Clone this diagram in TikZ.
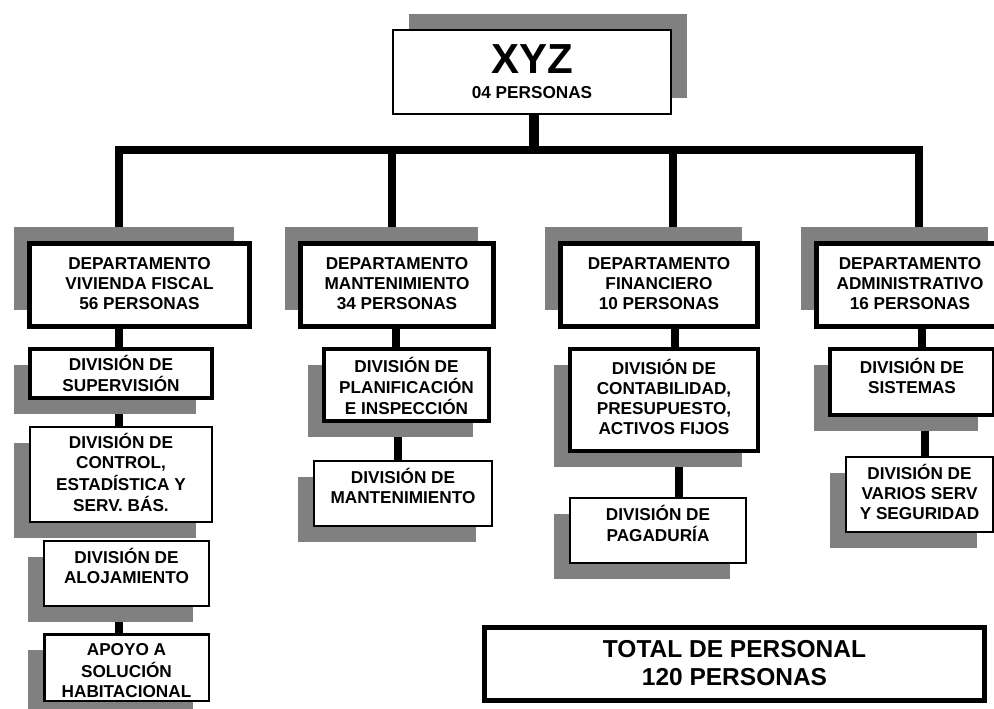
\documentclass[tikz,border=0pt]{standalone}
\usepackage{fontspec}
\setmainfont{Liberation Sans}
\usetikzlibrary{shadows,backgrounds}
\definecolor{sgray}{HTML}{808080}
\newcommand\boxtext[2][0pt]{\raisebox{#1}[\height][\depth]{\begin{tabular}{@{}c@{}}#2\end{tabular}}}
\tikzset{
  box/.style={draw, fill=white, inner sep=0pt, font=\bfseries\fontsize{17.2}{20}\selectfont},
  bthin/.style={box, line width=2pt},
  bmid/.style={box, line width=4pt},
  bthick/.style={box, line width=5pt},
  shdept/.style={drop shadow={shadow xshift=-16pt,shadow yshift=16.5pt,fill=sgray,opacity=1}},
  shdiv/.style={drop shadow={shadow xshift=-16pt,shadow yshift=-16pt,fill=sgray,opacity=1}},
  shtop/.style={drop shadow={shadow xshift=16pt,shadow yshift=16pt,fill=sgray,opacity=1}},
  conn/.style={line width=8pt}
}
\begin{document}
\begin{tikzpicture}[x=1pt,y=-1pt]
\useasboundingbox (0,0) rectangle (994,709);
\clip (0,0) rectangle (994,709);
% top
\node[bthin, shtop, minimum width=278pt, minimum height=84pt] (top) at (532,72)
  {\boxtext[-2.5pt]{{\fontsize{42}{42}\selectfont XYZ}\\[4.5pt]04 PERSONAS}};
% departments
\node[bthick, shdept, minimum width=220pt, minimum height=83pt] (d1) at (139.5,285)
  {\boxtext{DEPARTAMENTO\\VIVIENDA FISCAL\\56 PERSONAS}};
\node[bthick, shdept, minimum width=193pt, minimum height=83pt] (d2) at (397,285)
  {\boxtext{DEPARTAMENTO\\MANTENIMIENTO\\34 PERSONAS}};
\node[bthick, shdept, minimum width=197pt, minimum height=83pt] (d3) at (659,285)
  {\boxtext{DEPARTAMENTO\\FINANCIERO\\10 PERSONAS}};
\node[bthick, shdept, minimum width=187pt, minimum height=83pt] (d4) at (910,285)
  {\boxtext{DEPARTAMENTO\\ADMINISTRATIVO\\16 PERSONAS}};
% column 1
\node[bmid, shdiv, minimum width=182pt, minimum height=49pt] (sup) at (121,373.5)
  {\boxtext[-3pt]{DIVISIÓN DE\\SUPERVISIÓN}};
\node[bthin, shdiv, minimum width=182pt, minimum height=95pt] (ctrl) at (121,474.5)
  {\boxtext[-1pt]{DIVISIÓN DE\\CONTROL,\\ESTADÍSTICA Y\\SERV. BÁS.}};
\node[bthin, shdiv, minimum width=165pt, minimum height=65pt] (aloj) at (126.5,573.5)
  {\boxtext[5pt]{DIVISIÓN DE\\ALOJAMIENTO}};
\node[box, line width=2.5pt, shdiv, minimum width=164.5pt, minimum height=66.5pt] (apoyo) at (126.5,667.5)
  {\boxtext[-5pt]{APOYO A\\SOLUCIÓN\\HABITACIONAL}};
% column 2
\node[bmid, shdiv, minimum width=165pt, minimum height=72pt] (plan) at (406.5,385)
  {\boxtext[-4pt]{DIVISIÓN DE\\PLANIFICACIÓN\\E INSPECCIÓN}};
\node[bthin, shdiv, minimum width=178pt, minimum height=65pt] (mant) at (403,493.5)
  {\boxtext[5pt]{DIVISIÓN DE\\MANTENIMIENTO}};
% column 3
\node[bmid, shdiv, minimum width=188pt, minimum height=102pt] (cont) at (664,400)
  {\boxtext{DIVISIÓN DE\\CONTABILIDAD,\\PRESUPUESTO,\\ACTIVOS FIJOS}};
\node[bthin, shdiv, minimum width=176pt, minimum height=65pt] (pag) at (658,530.5)
  {\boxtext[4.5pt]{DIVISIÓN DE\\PAGADURÍA}};
% column 4
\node[bmid, shdiv, minimum width=164pt, minimum height=66pt] (sis) at (912,382)
  {\boxtext[3pt]{DIVISIÓN DE\\SISTEMAS}};
\node[bthin, shdiv, minimum width=147pt, minimum height=75pt] (var) at (919.5,494.5)
  {\boxtext{DIVISIÓN DE\\VARIOS SERV\\Y SEGURIDAD}};
% total
\node[bthick, minimum width=500pt, minimum height=73pt, font=\bfseries\fontsize{24.5}{28}\selectfont] (total) at (734.5,664)
  {\boxtext[-1.5pt]{TOTAL DE PERSONAL\\120 PERSONAS}};
% connector coordinates
\coordinate (xt) at (534,150);
\coordinate (b1) at (119,150);
\coordinate (b2) at (392,150);
\coordinate (b3) at (673,150);
\coordinate (b4) at (919,150);
\coordinate (k1) at (119,0);
\coordinate (k2a) at (396,0);
\coordinate (k2b) at (398,0);
\coordinate (k3a) at (675,0);
\coordinate (k3b) at (679,0);
\coordinate (k4a) at (922,0);
\coordinate (k4b) at (925,0);
\begin{pgfonlayer}{background}
\fill[white] (0,0) rectangle (994,709);
\draw[line width=10pt] (top.south -| xt) -- (xt);
\draw[conn, line cap=rect] (b1) -- (b4);
\draw[conn] (b1) -- (b1 |- d1.north);
\draw[conn] (b2) -- (b2 |- d2.north);
\draw[conn] (b3) -- (b3 |- d3.north);
\draw[conn] (b4) -- (b4 |- d4.north);
\draw[conn] (d1.south -| k1) -- (sup.north -| k1);
\draw[conn] (sup.south -| k1) -- (ctrl.north -| k1);
\draw[conn] (aloj.south -| k1) -- (apoyo.north -| k1);
\draw[conn] (d2.south -| k2a) -- (plan.north -| k2a);
\draw[conn] (plan.south -| k2b) -- (mant.north -| k2b);
\draw[conn] (d3.south -| k3a) -- (cont.north -| k3a);
\draw[conn] (cont.south -| k3b) -- (pag.north -| k3b);
\draw[conn] (d4.south -| k4a) -- (sis.north -| k4a);
\draw[conn] (sis.south -| k4b) -- (var.north -| k4b);
\end{pgfonlayer}
\end{tikzpicture}
\end{document}
